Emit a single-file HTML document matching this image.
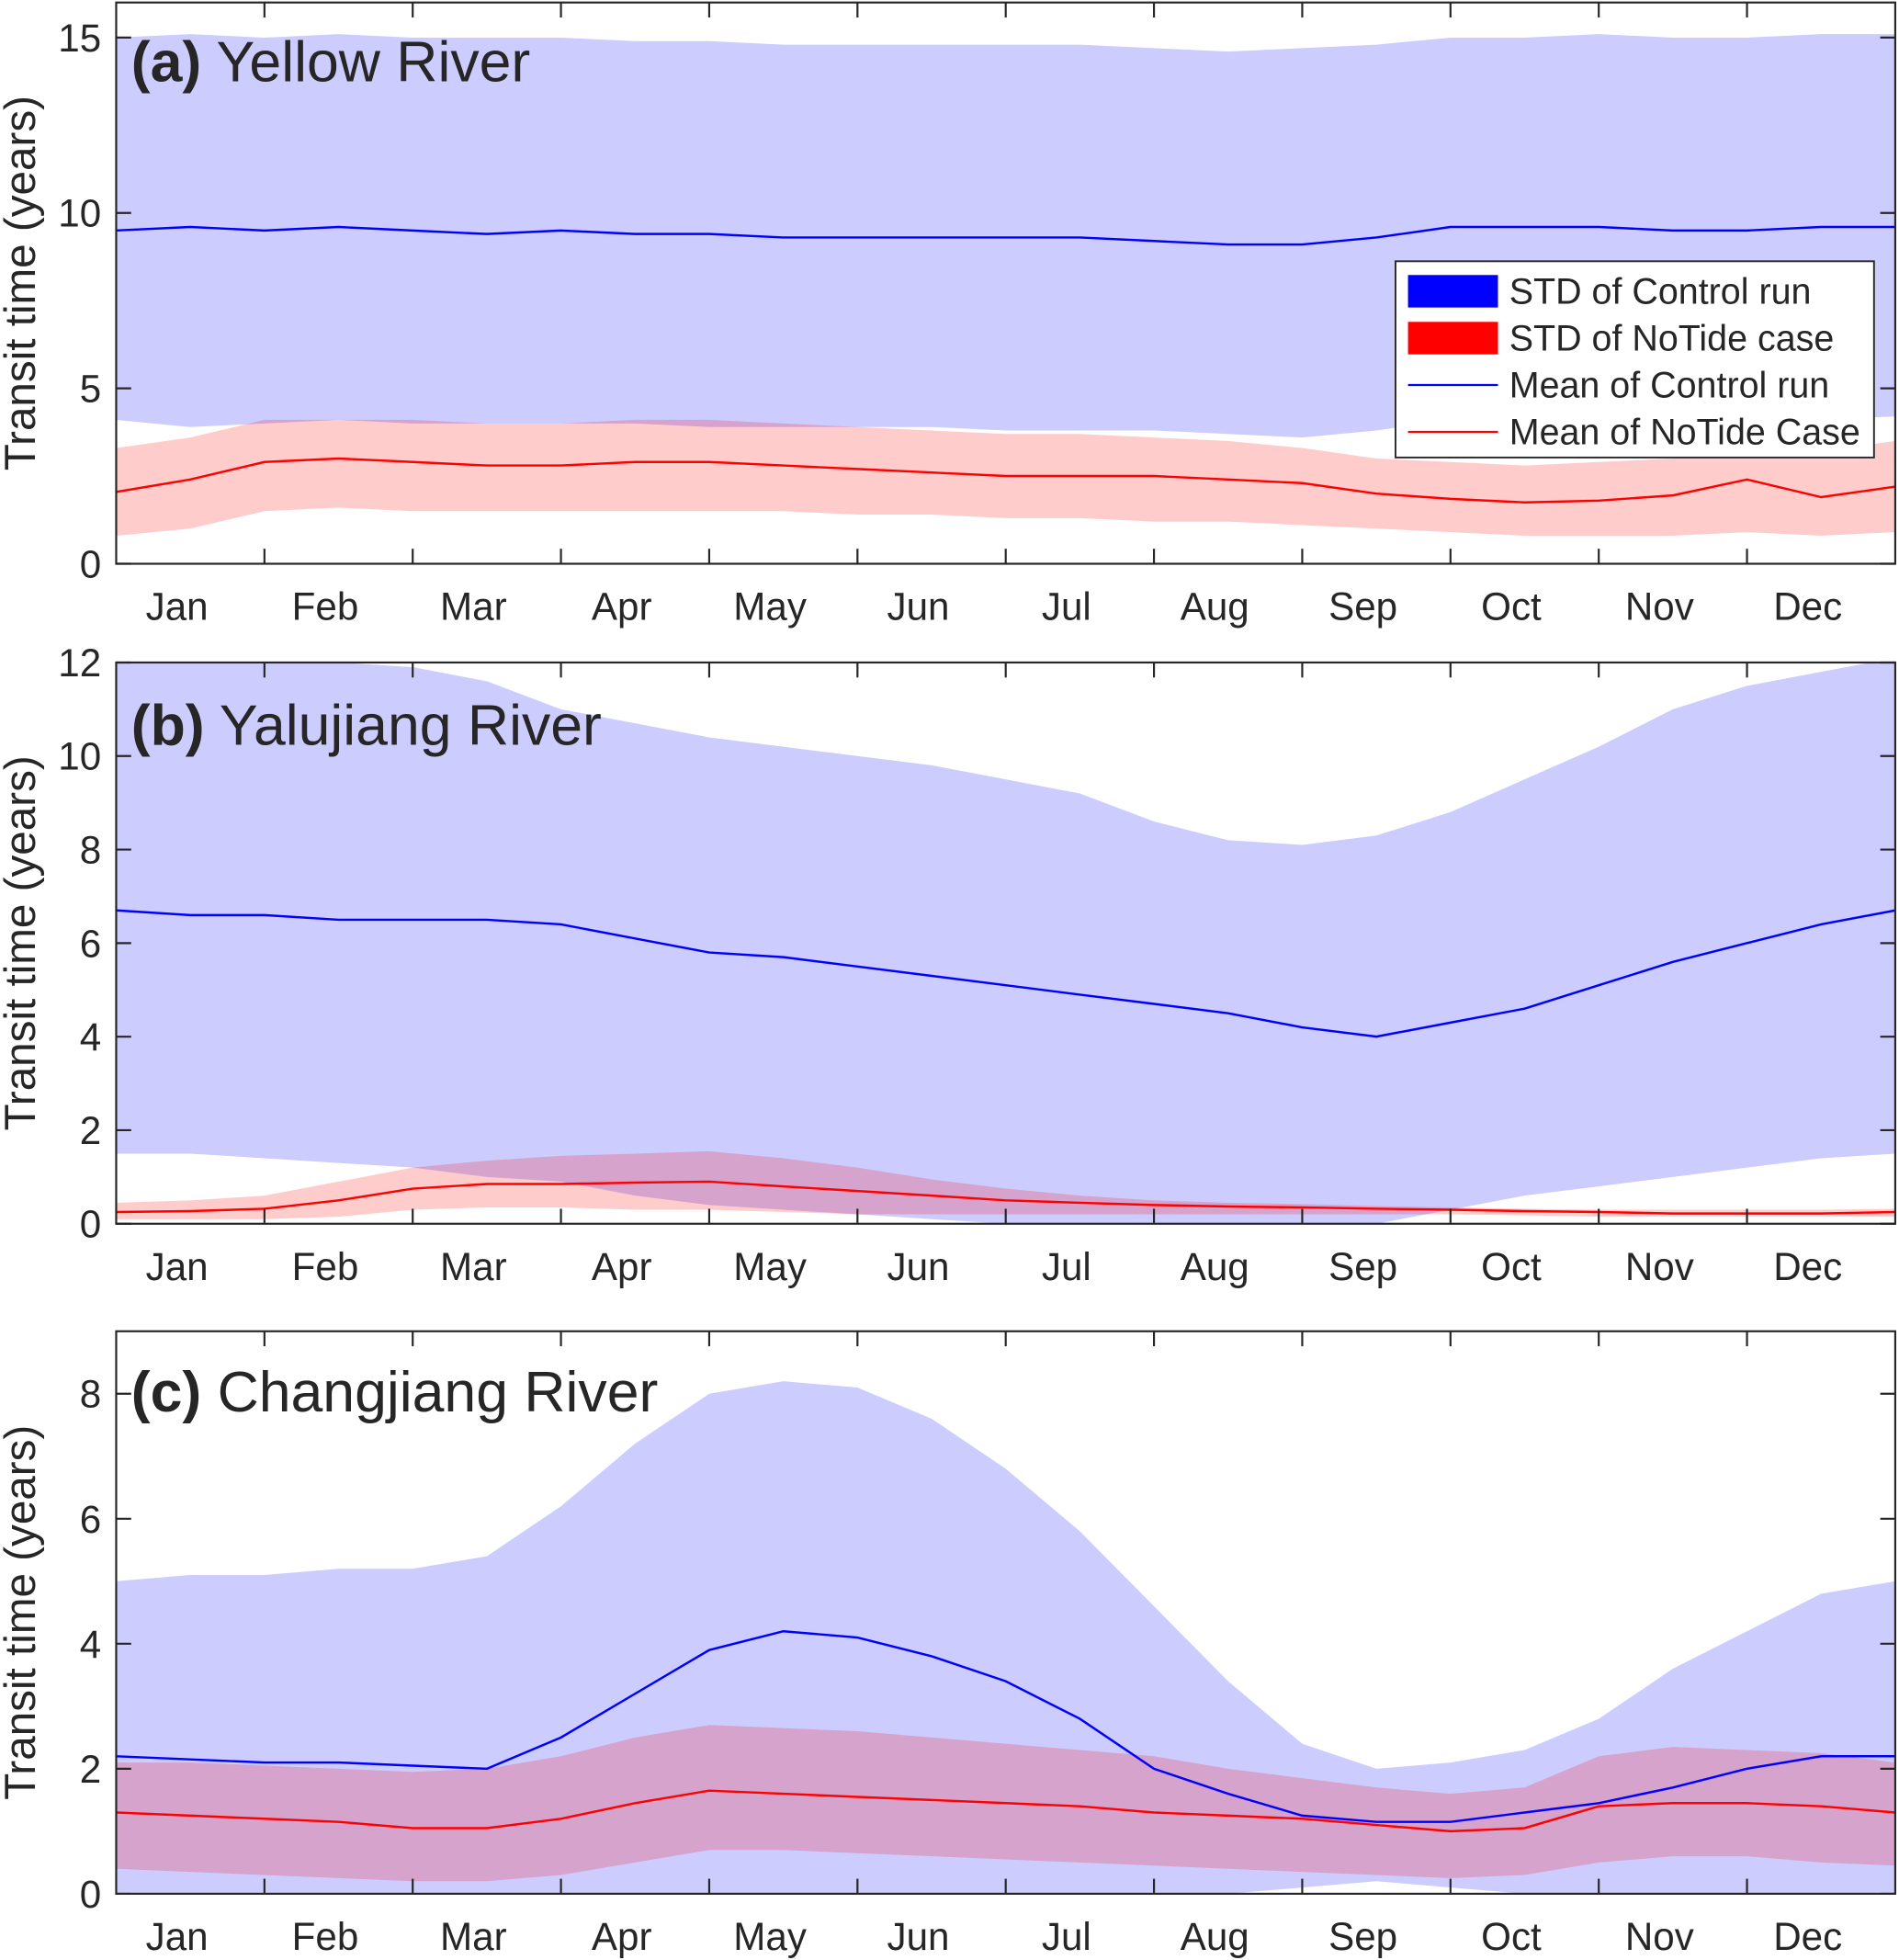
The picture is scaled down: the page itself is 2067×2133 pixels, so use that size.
<!DOCTYPE html>
<html><head><meta charset="utf-8"><style>
html,body{margin:0;padding:0;background:#fff}
svg{display:block}
text{font-family:"Liberation Sans",Arial,sans-serif;fill:#262626}
</style></head><body>
<svg id="chart" width="2067" height="2133" viewBox="0 0 1520 1568" preserveAspectRatio="none" xmlns="http://www.w3.org/2000/svg"></svg>
<script>
const months = ["Jan","Feb","Mar","Apr","May","Jun","Jul","Aug","Sep","Oct","Nov","Dec"];
// values sampled every half month (25 points from Jan 1 to Dec 31)
const aCtrlMean = [9.5,9.6,9.5,9.6,9.5,9.4,9.5,9.4,9.4,9.3,9.3,9.3,9.3,9.3,9.2,9.1,9.1,9.3,9.6,9.6,9.6,9.5,9.5,9.6,9.6];
const aCtrlUp = [15.0,15.1,15.0,15.1,15.0,15.0,15.0,14.9,14.9,14.8,14.8,14.8,14.8,14.8,14.7,14.6,14.7,14.8,15.0,15.0,15.1,15.0,15.0,15.1,15.1];
const aCtrlLo = [4.1,3.9,4.0,4.1,4.0,4.0,4.0,4.0,3.9,3.9,3.9,3.9,3.8,3.8,3.8,3.7,3.6,3.8,4.1,4.1,4.1,4.0,4.0,4.1,4.2];
const aNtMean = [2.05,2.4,2.9,3.0,2.9,2.8,2.8,2.9,2.9,2.8,2.7,2.6,2.5,2.5,2.5,2.4,2.3,2.0,1.85,1.75,1.8,1.95,2.4,1.9,2.2];
const aNtUp = [3.3,3.6,4.1,4.1,4.1,4.0,4.0,4.1,4.1,4.0,3.9,3.8,3.7,3.7,3.6,3.5,3.3,3.0,2.9,2.8,2.9,3.0,3.3,3.2,3.5];
const aNtLo = [0.8,1.0,1.5,1.6,1.5,1.5,1.5,1.5,1.5,1.5,1.4,1.4,1.3,1.3,1.2,1.2,1.1,1.0,0.9,0.8,0.8,0.8,0.9,0.8,0.9];

const bCtrlMean = [6.7,6.6,6.6,6.5,6.5,6.5,6.4,6.1,5.8,5.7,5.5,5.3,5.1,4.9,4.7,4.5,4.2,4.0,4.3,4.6,5.1,5.6,6.0,6.4,6.7];
const bCtrlUp = [12.3,12.2,12.2,12.0,11.9,11.6,11.0,10.7,10.4,10.2,10.0,9.8,9.5,9.2,8.6,8.2,8.1,8.3,8.8,9.5,10.2,11.0,11.5,11.8,12.1];
const bCtrlLo = [1.5,1.5,1.4,1.3,1.2,1.0,0.9,0.6,0.4,0.3,0.2,0.1,0.0,0.0,-0.1,-0.2,-0.1,0.0,0.3,0.6,0.8,1.0,1.2,1.4,1.5];
const bNtMean = [0.25,0.27,0.32,0.5,0.75,0.85,0.85,0.88,0.9,0.8,0.7,0.6,0.5,0.45,0.4,0.37,0.35,0.32,0.3,0.27,0.25,0.22,0.22,0.22,0.25];
const bNtUp = [0.45,0.5,0.6,0.9,1.2,1.35,1.45,1.5,1.55,1.4,1.2,0.95,0.75,0.6,0.5,0.45,0.42,0.38,0.35,0.32,0.3,0.3,0.3,0.3,0.32];
const bNtLo = [0.1,0.1,0.1,0.15,0.3,0.35,0.35,0.3,0.3,0.25,0.2,0.2,0.2,0.2,0.2,0.2,0.2,0.2,0.2,0.18,0.15,0.15,0.15,0.15,0.15];

const cCtrlMean = [2.2,2.15,2.1,2.1,2.05,2.0,2.5,3.2,3.9,4.2,4.1,3.8,3.4,2.8,2.0,1.6,1.25,1.15,1.15,1.3,1.45,1.7,2.0,2.2,2.2];
const cCtrlUp = [5.0,5.1,5.1,5.2,5.2,5.4,6.2,7.2,8.0,8.2,8.1,7.6,6.8,5.8,4.6,3.4,2.4,2.0,2.1,2.3,2.8,3.6,4.2,4.8,5.0];
const cCtrlLo = [-0.6,-0.8,-0.9,-1,-1,-1,-1,-1,-1,-1,-1,-1,-0.8,-0.6,-0.3,0.0,0.1,0.2,0.1,0.0,-0.2,-0.5,-0.6,-0.6,-0.6];
const cNtMean = [1.3,1.25,1.2,1.15,1.05,1.05,1.2,1.45,1.65,1.6,1.55,1.5,1.45,1.4,1.3,1.25,1.2,1.1,1.0,1.05,1.4,1.45,1.45,1.4,1.3];
const cNtUp = [2.1,2.1,2.05,2.0,1.95,2.0,2.2,2.5,2.7,2.65,2.6,2.5,2.4,2.3,2.2,2.0,1.85,1.7,1.6,1.7,2.2,2.35,2.3,2.25,2.1];
const cNtLo = [0.4,0.35,0.3,0.25,0.2,0.2,0.3,0.5,0.7,0.7,0.65,0.6,0.55,0.5,0.45,0.4,0.35,0.3,0.25,0.3,0.5,0.6,0.6,0.5,0.45];

const aTicks = [0,5,10,15], bTicks = [0,2,4,6,8,10,12], cTicks = [0,2,4,6,8];

const NS = "http://www.w3.org/2000/svg";
const svg = document.getElementById("chart");
const X0 = 93, X1 = 1517;
function xs(m){ return X0 + (X1 - X0) * m / 12; }
function mk(tag, attrs, parent){
  const e = document.createElementNS(NS, tag);
  for (const k in attrs) e.setAttribute(k, attrs[k]);
  (parent || svg).appendChild(e);
  return e;
}
function panel(id, top, bottom, ymax, ticks, ctrlUp, ctrlLo, ctrlMean, ntUp, ntLo, ntMean, title, letter, titleY){
  const g = mk("g", {});
  
  
  const ys = v => bottom - (bottom - top) * v / ymax;
  const clip = mk("clipPath", {id: "clip" + id}, g);
  mk("rect", {x: X0, y: top, width: X1 - X0, height: bottom - top}, clip);
  const plot = mk("g", {"clip-path": "url(#clip" + id + ")"}, g);
  function band(up, lo, color, name){
    const n = up.length; let d = "";
    for (let i = 0; i < n; i++) d += (i ? "L" : "M") + xs(i * 12 / (n - 1)).toFixed(1) + "," + ys(up[i]).toFixed(1);
    for (let i = n - 1; i >= 0; i--) d += "L" + xs(i * 12 / (n - 1)).toFixed(1) + "," + ys(lo[i]).toFixed(1);
    const p = mk("path", {d: d + "Z", fill: color, "fill-opacity": 0.2, stroke: "none"}, plot);
    
    
  }
  function line(vals, color, name){
    const n = vals.length;
    const pts = vals.map((v, i) => xs(i * 12 / (n - 1)).toFixed(1) + "," + ys(v).toFixed(1)).join(" ");
    const p = mk("polyline", {points: pts, fill: "none", stroke: color, "stroke-width": 1.8}, plot);
    
    
  }
  band(ctrlUp, ctrlLo, "#0000ff", "control-std-band");
  band(ntUp, ntLo, "#ff0000", "notide-std-band");
  line(ctrlMean, "#0000ff", "control-mean-line");
  line(ntMean, "#ff0000", "notide-mean-line");
  const frame = mk("rect", {x: X0, y: top, width: X1 - X0, height: bottom - top, fill: "none", stroke: "#262626", "stroke-width": 1.6}, g);
  
  
  for (let m = 1; m < 12; m++){
    mk("line", {x1: xs(m), x2: xs(m), y1: bottom, y2: bottom - 12, stroke: "#262626", "stroke-width": 1.6}, g);
    mk("line", {x1: xs(m), x2: xs(m), y1: top, y2: top + 12, stroke: "#262626", "stroke-width": 1.6}, g);
  }
  months.forEach((mo, i) => {
    const t = mk("text", {x: xs(i + 0.41), y: bottom + 45, "text-anchor": "middle", "font-size": 31}, g);
    t.textContent = mo;
    
    
  });
  ticks.forEach(v => {
    mk("line", {x1: X0, x2: X0 + 12, y1: ys(v), y2: ys(v), stroke: "#262626", "stroke-width": 1.6}, g);
    mk("line", {x1: X1, x2: X1 - 12, y1: ys(v), y2: ys(v), stroke: "#262626", "stroke-width": 1.6}, g);
    const t = mk("text", {x: X0 - 12, y: ys(v) + 11, "text-anchor": "end", "font-size": 31}, g);
    t.textContent = v;
    
    
  });
  const yl = mk("text", {x: 0, y: 0, "text-anchor": "middle", "font-size": 35, transform: "translate(28," + ((top + bottom) / 2) + ") rotate(-90)"}, g);
  yl.textContent = "Transit time (years)";
  
  
  const tt = mk("text", {x: 105, y: titleY, "font-size": 46}, g);
  
  
  const b = mk("tspan", {"font-weight": "bold"}, tt); b.textContent = letter;
  const r = mk("tspan", {}, tt); r.textContent = " " + title;
}
panel("a", 2, 451, 16, aTicks, aCtrlUp, aCtrlLo, aCtrlMean, aNtUp, aNtLo, aNtMean, "Yellow River", "(a)", 65);
panel("b", 530, 979, 12, bTicks, bCtrlUp, bCtrlLo, bCtrlMean, bNtUp, bNtLo, bNtMean, "Yalujiang River", "(b)", 596);
panel("c", 1065, 1515, 9, cTicks, cCtrlUp, cCtrlLo, cCtrlMean, cNtUp, cNtLo, cNtMean, "Changjiang River", "(c)", 1129);

// legend
const lg = mk("g", {});


mk("rect", {x: 1117, y: 209, width: 383, height: 157, fill: "#fff", stroke: "#262626", "stroke-width": 1.4}, lg);
const entries = [["STD of Control run","#0000ff",true],["STD of NoTide case","#ff0000",true],["Mean of Control run","#0000ff",false],["Mean of NoTide Case","#ff0000",false]];
entries.forEach((e, i) => {
  const cy = 233 + i * 37.5;
  const eg = mk("g", {}, lg);
  
  
  if (e[2]) mk("rect", {x: 1127, y: cy - 13, width: 72, height: 26, fill: e[1]}, eg);
  else mk("line", {x1: 1127, x2: 1199, y1: cy, y2: cy, stroke: e[1], "stroke-width": 1.6}, eg);
  const t = mk("text", {x: 1208, y: cy + 10, "font-size": 29}, eg);
  t.textContent = e[0];
});
</script>
</body></html>
